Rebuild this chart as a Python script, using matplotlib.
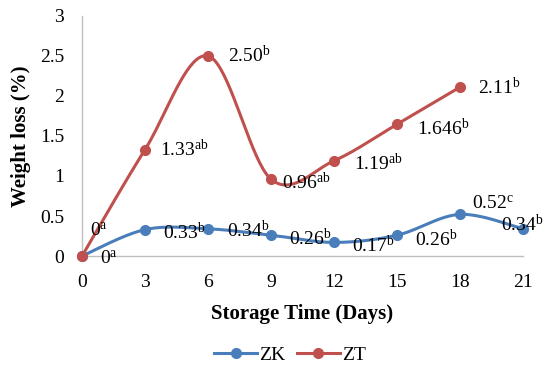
import numpy as np
import matplotlib.pyplot as plt

plt.rcParams['font.family'] = ['Liberation Serif', 'DejaVu Serif']
plt.rcParams['mathtext.fontset'] = 'custom'
plt.rcParams['mathtext.rm'] = 'Liberation Serif'
plt.rcParams['mathtext.it'] = 'Liberation Serif'

days = [0, 3, 6, 9, 12, 15, 18, 21]
zk = [0, 0.33, 0.34, 0.26, 0.17, 0.26, 0.52, 0.34]
zt = [0, 1.33, 2.50, 0.96, 1.19, 1.646, 2.11]
zk_txt = ['0', '0.33', '0.34', '0.26', '0.17', '0.26', '0.52', '0.34']
zk_sup = ['a', 'b', 'b', 'b', 'b', 'b', 'c', 'b']
zt_txt = ['0', '1.33', '2.50', '0.96', '1.19', '1.646', '2.11']
zt_sup = ['a', 'ab', 'b', 'ab', 'ab', 'b', 'b']

blue = '#4a7ebb'
red = '#c0504d'


def smooth(x, y, n=40):
    # excel-style smoothed line: bezier segments with catmull-rom control points
    x = np.asarray(x, float); y = np.asarray(y, float)
    px = np.concatenate([[x[0]], x, [x[-1]]])
    py = np.concatenate([[y[0]], y, [y[-1]]])
    t = np.linspace(0, 1, n)[:, None]
    xs, ys = [], []
    for i in range(1, len(px) - 2):
        p0 = np.array([px[i], py[i]])
        p3 = np.array([px[i + 1], py[i + 1]])
        p1 = p0 + (np.array([px[i + 1], py[i + 1]]) - np.array([px[i - 1], py[i - 1]])) / 6
        p2 = p3 - (np.array([px[i + 2], py[i + 2]]) - np.array([px[i], py[i]])) / 6
        b = (1 - t)**3 * p0 + 3 * (1 - t)**2 * t * p1 + 3 * (1 - t) * t**2 * p2 + t**3 * p3
        xs.append(b[:, 0]); ys.append(b[:, 1])
    return np.concatenate(xs), np.concatenate(ys)


fig = plt.figure(figsize=(5.47, 3.66), dpi=100)
ax = fig.add_axes([0.150, 0.3005, 0.806, 0.656])

sx, sy = smooth(days, zk)
ax.plot(sx, sy, color=blue, lw=2.2, clip_on=False)
ax.plot(days, zk, 'o', color=blue, ms=7, clip_on=False, zorder=3)
sx, sy = smooth(days[:len(zt)], zt)
ax.plot(sx, sy, color=red, lw=2.2, clip_on=False)
ax.plot(days[:len(zt)], zt, 'o', color=red, ms=7, clip_on=False, zorder=3)

# data labels, offsets in pixels
fs = 14
zk_off = [(18, -3), (18, -3), (19, -2), (18, -3), (18, -3), (18, -4), (12, 11), (-22, 4)]
zt_off = [(8, 25), (15, 0), (20, 0), (11, -3), (20, -3), (20, -4), (18, 0)]
for i in range(len(zk)):
    ax.annotate(zk_txt[i] + r'$^{\mathrm{%s}}$' % zk_sup[i], (days[i], zk[i]),
                xytext=zk_off[i], textcoords='offset pixels',
                ha='left', va='center', fontsize=fs, annotation_clip=False)
for i in range(len(zt)):
    ax.annotate(zt_txt[i] + r'$^{\mathrm{%s}}$' % zt_sup[i], (days[i], zt[i]),
                xytext=zt_off[i], textcoords='offset pixels',
                ha='left', va='center', fontsize=fs, annotation_clip=False)

ax.set_xlim(0, 21)
ax.set_ylim(0, 3)
ax.set_xticks(days)
ax.set_yticks([0, 0.5, 1, 1.5, 2, 2.5, 3])
ax.set_yticklabels(['0', '0.5', '1', '1.5', '2', '2.5', '3'])
ax.tick_params(axis='y', length=0, labelsize=fs, pad=13)
ax.tick_params(axis='x', length=0, labelsize=fs, pad=13)
for s in ['top', 'right']:
    ax.spines[s].set_visible(False)
for s in ['left', 'bottom']:
    ax.spines[s].set_color('#bfbfbf')
    ax.spines[s].set_linewidth(1)

ax.set_xlabel('Storage Time (Days)', fontsize=15, fontweight='bold', labelpad=9)
ax.set_ylabel('Weight loss (%)', fontsize=15, fontweight='bold', labelpad=6)

h1, = ax.plot([], [], color=blue, lw=2.2, marker='o', ms=7)
h2, = ax.plot([], [], color=red, lw=2.2, marker='o', ms=7)
fig.legend([h1, h2], ['ZK', 'ZT'], loc='center', bbox_to_anchor=(0.53, 0.03),
           ncol=2, frameon=False, fontsize=fs, handlelength=2.2,
           columnspacing=0.6, handletextpad=0.1)

fig.savefig('out.png', dpi=100)
